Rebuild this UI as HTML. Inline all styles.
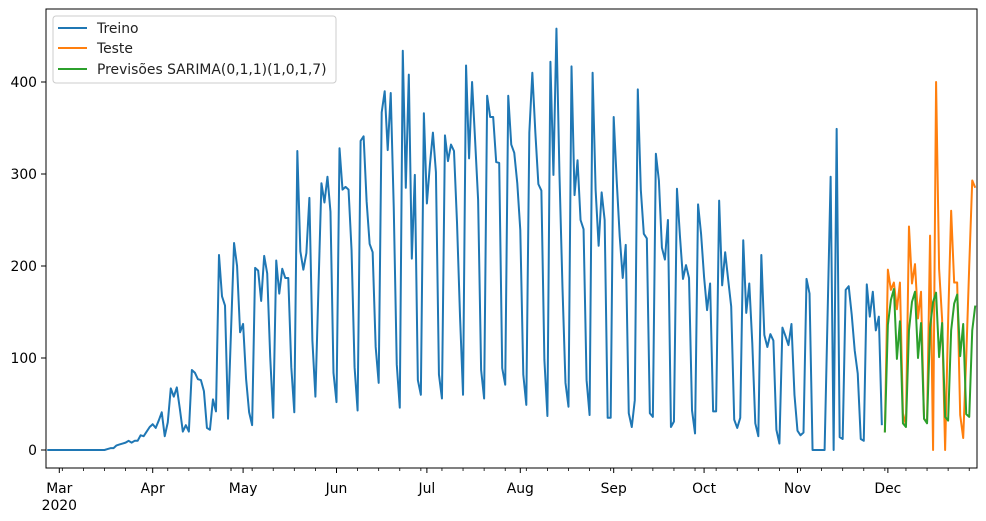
<!DOCTYPE html>
<html>
<head>
<meta charset="utf-8">
<style>
  html,body{margin:0;padding:0;background:#fff;}
  svg{display:block;font-family:"DejaVu Sans","Liberation Sans",sans-serif;}
</style>
</head>
<body>
<svg id="chart" width="986" height="521" viewBox="0 0 986 521">
  <defs><clipPath id="plotclip"><rect x="46" y="9" width="931" height="459"/></clipPath></defs>
  <g id="marks" clip-path="url(#plotclip)"></g>
  <g id="axes"></g>
  <g id="legend">
    <rect x="53" y="16" width="283" height="67" rx="3" fill="#fff" fill-opacity="0.8" stroke="#ccc"/>
    <line x1="58" y1="28" x2="87" y2="28" stroke="#1f77b4" stroke-width="2"/>
    <text x="97" y="33" font-size="13.9" fill="#222">Treino</text>
    <line x1="58" y1="48" x2="87" y2="48" stroke="#ff7f0e" stroke-width="2"/>
    <text x="97" y="53" font-size="13.9" fill="#222">Teste</text>
    <line x1="58" y1="69" x2="87" y2="69" stroke="#2ca02c" stroke-width="2"/>
    <text x="97" y="74" font-size="13.9" fill="#222">Previsões SARIMA(0,1,1)(1,0,1,7)</text>
  </g>
</svg>
<script>
// day index 0 = 2020-03-01
const treinoStart = -4;
const treinoValues = [0,0,0,0,0,0,0,0,0,0,0,0,0,0,0,0,0,0,0,0,
1,2,2,5,6,7,8,10,8,10,10,16,15,20,25,
28,24,32,41,15,30,67,58,68,45,20,27,20,87,84,77,76,64,24,22,55,42,212,167,157,34,130,225,200,128,
137,77,41,27,198,195,162,211,192,101,35,206,170,197,187,187,90,41,325,216,196,214,274,119,58,175,290,269,297,259,
84,52,328,283,286,283,217,90,43,336,341,270,224,215,112,73,367,390,326,388,264,93,46,434,285,408,208,299,76,60,
366,268,310,345,302,82,56,342,314,332,325,247,145,60,418,317,400,337,272,87,56,385,362,362,313,312,89,71,385,332,
323,290,239,82,49,345,410,345,289,282,98,37,422,299,458,300,177,73,47,417,277,315,250,240,76,38,410,283,222,280,
250,35,35,362,293,232,187,223,40,25,54,392,283,235,230,40,36,322,293,220,207,250,25,31,284,232,186,201,187,43,
18,267,235,188,152,181,42,42,271,179,215,185,156,33,24,35,228,149,181,116,29,15,212,125,112,126,119,22,7,133,
124,114,137,60,21,16,19,186,170,0,0,0,0,0,148,297,0,349,14,12,174,178,147,108,83,12,10,180,145,172,130,145,27];
const testeStart = 274;
const testeValues = [19,196,174,182,153,182,40,27,243,181,202,143,172,34,30,233,0,400,197,142,0,140,260,182,182,38,13,100,200,293,285];
const prevStart = 274;
const prevValues = [19,136,163,175,99,140,29,25,130,161,172,100,138,34,29,133,161,171,101,138,36,32,130,159,169,102,137,39,36,130,157];
const yTicks = [0,100,200,300,400];
const monthLabels = ["Mar","Apr","May","Jun","Jul","Aug","Sep","Oct","Nov","Dec"];
const monthDays = [0,31,61,92,122,153,184,214,245,275];

const NS = "http://www.w3.org/2000/svg";
function xScale(d){ return 59.3 + 3.013*d; }
function yScale(v){ return 450 - 0.92*v; }
function mk(tag, attrs, parent){ const e=document.createElementNS(NS,tag); for(const k in attrs) e.setAttribute(k,attrs[k]); parent.appendChild(e); return e; }

const marks = document.getElementById('marks');
const axes = document.getElementById('axes');

function drawSeries(start, vals, color, name){
  const pts = vals.map((v,i)=> xScale(start+i).toFixed(2)+","+yScale(v).toFixed(2)).join(" ");
  const pl = mk('polyline',{points:pts,fill:'none',stroke:color,'stroke-width':2,'stroke-linejoin':'round'},marks);
  
  
}
drawSeries(treinoStart, treinoValues, '#1f77b4', 'treino-line');
drawSeries(testeStart, testeValues, '#ff7f0e', 'teste-line');
drawSeries(prevStart, prevValues, '#2ca02c', 'previsoes-line');

// frame
const frame = mk('rect',{x:46,y:9,width:931,height:459,fill:'none',stroke:'#000','stroke-width':1},axes);



// y ticks
yTicks.forEach(v=>{
  const y = yScale(v);
  const t = mk('line',{x1:41,x2:46,y1:y,y2:y,stroke:'#000','stroke-width':1},axes);
  
  
  const l = mk('text',{x:37,y:y+5,'text-anchor':'end','font-size':13.9,fill:'#000'},axes);
  l.textContent = v;
  
  
});

// minor weekly ticks (Mondays)
for(let d=1; d<=304; d+=7){
  const x = xScale(d);
  const t = mk('line',{x1:x,x2:x,y1:468,y2:471,stroke:'#000','stroke-width':0.8},axes);
  
  
}
// month ticks
monthDays.forEach((d,i)=>{
  const x = xScale(d);
  const t = mk('line',{x1:x,x2:x,y1:468,y2:473,stroke:'#000','stroke-width':1},axes);
  
  
  const l = mk('text',{x:x,y:493,'text-anchor':'middle','font-size':13.9,fill:'#000'},axes);
  l.textContent = monthLabels[i];
  
  
});
const yr = mk('text',{x:xScale(0),y:510,'text-anchor':'middle','font-size':13.9,fill:'#000'},axes);
yr.textContent = "2020";


</script>
</body>
</html>
